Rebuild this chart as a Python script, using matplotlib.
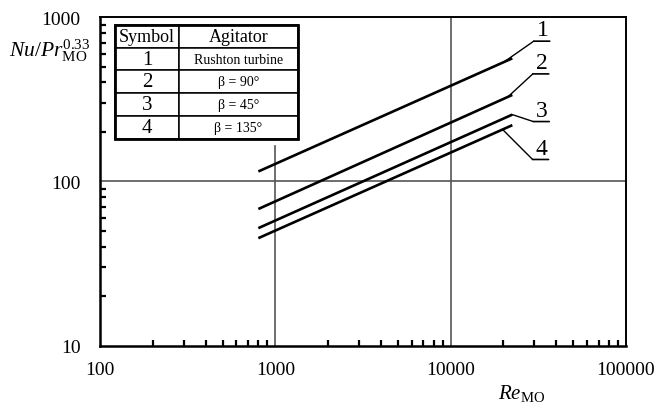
import numpy as np
import matplotlib
matplotlib.use("Agg")
import matplotlib.pyplot as plt
from matplotlib import transforms
from matplotlib.patches import Rectangle
from matplotlib.ticker import LogLocator, FixedLocator, NullFormatter

plt.rcParams["font.family"] = ["Liberation Serif", "DejaVu Serif"]
plt.rcParams["mathtext.fontset"] = "custom"
plt.rcParams["mathtext.rm"] = "Liberation Serif"
plt.rcParams["mathtext.it"] = "Liberation Serif:italic"

# Correlation lines: Nu/Pr^0.33 vs Re for each agitator (end points)
curve_ids = ["1", "2", "3", "4"]
re_start = [800, 800, 800, 800]
re_end = [22500, 22500, 22500, 22500]
nu_start = [115, 68, 52, 45.2]
nu_end = [561, 336, 255, 220]

# Table contents
table_header = ["Symbol", "Agitator"]
table_symbols = ["1", "2", "3", "4"]
table_agitators = ["Rushton turbine", "β = 90°", "β = 45°", "β = 135°"]

x_ticks = [100, 1000, 10000, 100000]
x_ticklabels = ["100", "1000", "10000", "100000"]
y_ticks = [10, 100, 1000]
y_ticklabels = ["10", "100", "1000"]

fig = plt.figure(figsize=(6.54, 4.10), dpi=100)
ax = fig.add_axes([0.153, 0.154, 0.804, 0.802])
ax.set_xscale("log")
ax.set_yscale("log")
ax.set_xlim(100, 100000)
ax.set_ylim(10, 1000)

for s in ax.spines.values():
    s.set_linewidth(1.8)
ax.spines["top"].set_linewidth(1.4)
ax.spines["right"].set_linewidth(1.4)

ax.xaxis.set_major_locator(FixedLocator(x_ticks))
ax.set_xticklabels(x_ticklabels)
ax.yaxis.set_major_locator(FixedLocator(y_ticks))
ax.set_yticklabels(y_ticklabels)
ax.xaxis.set_minor_locator(LogLocator(base=10, subs=np.arange(2, 10)))
ax.yaxis.set_minor_locator(LogLocator(base=10, subs=np.arange(2, 10)))
ax.xaxis.set_minor_formatter(NullFormatter())
ax.yaxis.set_minor_formatter(NullFormatter())
ax.tick_params(which="both", direction="in", top=False, right=False,
               labelsize=14, color="black")
ax.tick_params(which="major", length=0, width=1.4)
ax.tick_params(which="minor", length=4, width=1.6)
ax.tick_params(axis="x", which="major", pad=11)
ax.tick_params(axis="y", which="major", pad=14)

# Grid lines
ax.axhline(100, color="#555555", lw=1.2, zorder=1)
ax.axvline(10000, color="#555555", lw=1.2, zorder=1)
ax.plot([1000, 1000], [10, 165], color="#555555", lw=1.2, zorder=1)

# Correlation lines
for i in range(4):
    ax.plot([re_start[i], re_end[i]], [nu_start[i], nu_end[i]],
            color="black", lw=1.9, solid_capstyle="butt", zorder=3)


def on_line(i, re):
    """Value of curve i at Reynolds number re (straight line in log-log)."""
    lx0, lx1 = np.log10(re_start[i]), np.log10(re_end[i])
    ly0, ly1 = np.log10(nu_start[i]), np.log10(nu_end[i])
    t = (np.log10(re) - lx0) / (lx1 - lx0)
    return 10 ** (ly0 + t * (ly1 - ly0))


# Leader lines to the curve numbers: (anchor Re, elbow offset in points)
leader_re = [20100, 21200, 22500, 19800]
leader_dx = [21.6, 18.0, 15.1, 21.6]
leader_dy = [15.1, 16.6, -5.0, -21.6]
underline_len = 11.5

for i in range(4):
    xa = leader_re[i]
    ya = on_line(i, xa)
    dx, dy = leader_dx[i], leader_dy[i]
    ax.annotate("", xy=(xa, ya), xytext=(dx, dy), textcoords="offset points",
                arrowprops=dict(arrowstyle="-", lw=1.0, color="black",
                                shrinkA=0, shrinkB=0), zorder=4)
    elbow = transforms.offset_copy(ax.transData, fig=fig, x=dx, y=dy,
                                   units="points")
    ax.annotate("", xy=(xa, ya), xycoords=elbow, xytext=(underline_len, 0),
                textcoords="offset points",
                arrowprops=dict(arrowstyle="-", lw=1.2, color="black",
                                shrinkA=0, shrinkB=0), zorder=4)
    ax.annotate(curve_ids[i], xy=(xa, ya),
                xytext=(dx + underline_len / 2 + 0.5, dy + 0.5),
                textcoords="offset points", ha="center", va="bottom",
                fontsize=17, zorder=4)

# Axis titles
fig.text(0.797, 0.026, r"$\mathit{Re}_{\mathrm{MO}}$", fontsize=15,
         ha="center", va="baseline")
fig.text(0.014, 0.862, r"$\mathit{Nu}/\mathit{Pr}_{\mathrm{MO}}^{0.33}$",
         fontsize=15.5, ha="left", va="baseline")

# Table of agitators
cell_text = [[s, a] for s, a in zip(table_symbols, table_agitators)]
tbl_box = [0.0285, 0.630, 0.348, 0.346]
tbl = ax.table(cellText=cell_text, colLabels=table_header,
               cellLoc="center", colWidths=[0.35, 0.65],
               bbox=tbl_box, zorder=5)
tbl.auto_set_font_size(False)
for (r, c), cell in tbl.get_celld().items():
    cell.set_linewidth(1.1)
    cell.set_edgecolor("black")
    cell.set_facecolor("white")
    txt = cell.get_text()
    if r == 0:
        txt.set_fontsize(13)
    elif c == 0:
        txt.set_fontsize(15)
    else:
        txt.set_fontsize(10)
    cell.PAD = 0.02

# thicker outer frame of the table
ax.add_patch(Rectangle((tbl_box[0], tbl_box[1]), tbl_box[2], tbl_box[3],
                       transform=ax.transAxes, fill=False, lw=2.0,
                       edgecolor="black", zorder=6))

fig.savefig("out.png", dpi=100)
